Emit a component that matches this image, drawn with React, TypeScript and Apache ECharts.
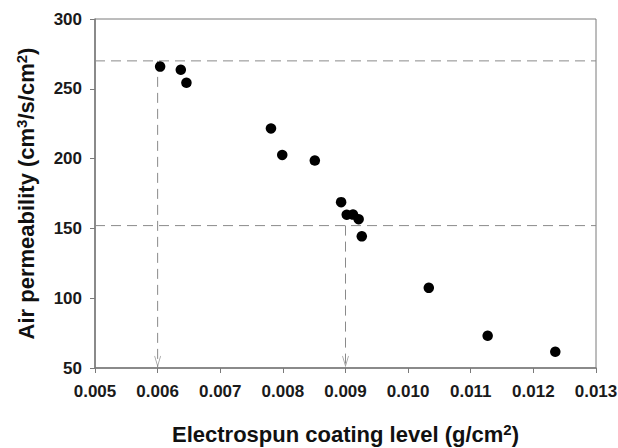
import React, { useEffect, useRef } from "react";
import * as echarts from "echarts";

const coatingLevel = [0.00604, 0.00637, 0.00646, 0.00781, 0.00799, 0.00851, 0.00893, 0.00902, 0.00912, 0.00921, 0.00926, 0.01033, 0.01127, 0.01235];
const airPermeability = [265.9, 263.6, 254.3, 221.6, 202.6, 198.6, 168.8, 159.8, 159.9, 156.6, 144.3, 107.4, 73.1, 61.6];

const xRange = [0.005, 0.013];
const yRange = [50, 300];
const guideY = [270, 152];
const guideX = [0.006, 0.009];

const FONT = "'Liberation Sans', Arial, sans-serif";

export default function App() {
  const ref = useRef<HTMLDivElement>(null);
  useEffect(() => {
    if (!ref.current) return;
    const chart = echarts.init(ref.current, null, { renderer: "svg" });
    const points = coatingLevel.map((x, i) => [x, airPermeability[i]]);
    const dash = { color: "#8a8a8a", width: 1, type: [10, 6] as any };
    const guideSeries: any[] = [];
    guideY.forEach((y) => {
      guideSeries.push({
        type: "line",
        data: [[xRange[0], y], [xRange[1], y]],
        symbol: "none",
        lineStyle: dash,
        silent: true,
        z: 1,
      });
    });
    guideX.forEach((x, i) => {
      guideSeries.push({
        type: "line",
        data: [[x, guideY[i]], [x, yRange[0]]],
        symbol: "none",
        lineStyle: dash,
        silent: true,
        z: 1,
      });
    });
    const sup = { fontSize: 15, fontWeight: "bold", fontFamily: FONT, color: "#111", verticalAlign: "top", lineHeight: 14 };
    const base = { fontSize: 22, fontWeight: "bold", fontFamily: FONT, color: "#111", lineHeight: 24 };
    chart.setOption({
      animation: false,
      grid: {
        left: 95,
        right: 22,
        top: 19,
        bottom: 80,
        outerBoundsMode: "none",
        containLabel: false,
        show: true,
        borderColor: "#7a7a7a",
        borderWidth: 1,
      },
      xAxis: {
        type: "value",
        min: xRange[0],
        max: xRange[1],
        interval: 0.001,
        name: "{b|Electrospun coating level (g/cm}{s|2}{b|)}",
        nameLocation: "middle",
        nameGap: 54,
        nameMoveOverlap: false,
        nameTextStyle: { rich: { b: base, s: sup } },
        axisLine: { lineStyle: { color: "#7a7a7a", width: 1.5 } },
        axisTick: { show: true, length: 5, lineStyle: { color: "#7a7a7a" } },
        splitLine: { show: false },
        axisLabel: {
          margin: 15,
          fontSize: 17,
          fontWeight: "bold",
          fontFamily: FONT,
          color: "#1a1a1a",
          formatter: (v: number) => v.toFixed(3),
        },
      },
      yAxis: {
        type: "value",
        min: yRange[0],
        max: yRange[1],
        interval: 50,
        name: "{b|Air permeability (cm}{s|3}{b|/s/cm}{s|2}{b|)}",
        nameLocation: "middle",
        nameGap: 57,
        nameMoveOverlap: false,
        nameTextStyle: { rich: { b: base, s: sup } },
        axisLine: { show: true, lineStyle: { color: "#7a7a7a", width: 1.5 } },
        axisTick: { show: true, length: 5, lineStyle: { color: "#7a7a7a" } },
        splitLine: { show: false },
        axisLabel: {
          margin: 13,
          fontSize: 17,
          fontWeight: "bold",
          fontFamily: FONT,
          color: "#1a1a1a",
        },
      },
      series: [
        ...guideSeries,
        {
          type: "scatter",
          data: guideX.map((x) => [x, yRange[0]]),
          symbol: "path://M0,0L5,10L10,0",
          symbolSize: [6, 10],
          symbolOffset: [0, -7],
          itemStyle: { color: "rgba(0,0,0,0)", borderColor: "#8a8a8a", borderWidth: 1 },
          silent: true,
          z: 2,
        },
        {
          type: "scatter",
          data: points,
          symbol: "circle",
          symbolSize: 10.5,
          itemStyle: { color: "#000000", opacity: 1 },
          z: 3,
        },
      ],
    });
    return () => chart.dispose();
  }, []);
  return <div ref={ref} style={{ position: "absolute", left: 0, top: 0, width: 618, height: 448 }} />;
}
